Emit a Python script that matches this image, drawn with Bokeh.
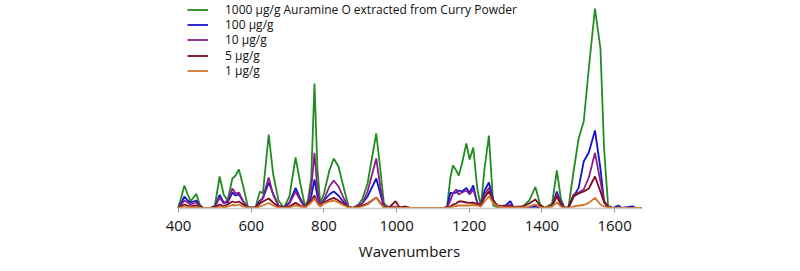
from bokeh.plotting import figure
from bokeh.models import Range1d, Legend, LegendItem, FixedTicker
from bokeh.embed import file_html
from bokeh.resources import INLINE

wavenumbers = [398, 405, 416, 425, 433, 449, 458, 468, 490, 500,
               513, 524, 535, 548, 557, 566, 578, 591, 612, 618,
               624, 632, 648, 660, 675, 690, 705, 722, 735, 748,
               756, 765, 774, 782, 790, 800, 815, 827, 840, 855,
               868, 880, 895, 905, 920, 944, 955, 965, 980, 997,
               1008, 1025, 1040, 1130, 1139, 1148, 1155, 1164, 1171, 1180,
               1192, 1201, 1211, 1222, 1232, 1242, 1254, 1266, 1278, 1300,
               1313, 1322, 1345, 1365, 1382, 1395, 1408, 1428, 1441, 1452,
               1462, 1473, 1487, 1501, 1515, 1529, 1546, 1561, 1571, 1582,
               1595, 1610, 1620, 1650, 1660, 1674]

c1000 = [0.5, 8, 23, 14, 7.3, 14.6, 4, 0.5, 0.8, 3,
         32, 14, 8, 30, 33, 39, 22, 1, 0.8, 10,
         17, 15, 74, 35, 8, 0.8, 12, 51, 25, 2,
         8, 30, 125, 40, 5, 15, 38, 50, 42, 20,
         2, 0.5, 4, 9, 25, 75, 40, 5, 0.5, 0.8,
         0.5, 0.5, 0.5, 0.5, 2, 31, 43, 38, 33, 45,
         65, 49, 61, 20, 2, 40, 73, 3, 1, 1,
         0.8, 0.5, 1, 8, 21.6, 4, 0.5, 5, 38, 10,
         0.5, 1, 37, 70, 87, 140, 200, 160, 60, 3,
         0.5, 0.5, 0.5, 0.5, 0.5, 0.5]

c100 = [0.5, 4, 12, 8, 6, 8, 2, 0.5, 0.8, 2,
        13.6, 6, 6, 16, 13, 14, 7, 0.8, 0.8, 5,
        8, 10, 26, 15, 3, 0.8, 6, 20.6, 10, 1,
        5, 12, 29, 12, 3, 8, 14, 17, 13, 6,
        1, 0.5, 3, 5, 12, 30, 15, 2, 0.5, 1.5,
        0.5, 0.5, 0.5, 0.5, 1, 15.8, 15, 16, 18, 17,
        20.6, 15.8, 23, 5, 2, 18, 26, 8, 2, 3,
        7.3, 1, 1, 1.5, 2, 1, 0.5, 3, 17, 6,
        0.5, 1, 12, 20.6, 47, 56, 78, 40, 7, 1,
        0.5, 3, 0.5, 2, 0.5, 0.5]

c10 = [0.5, 3, 8, 6, 4, 6, 2, 0.5, 0.8, 1.5,
       11, 5, 8, 20, 15, 16, 7, 0.8, 0.8, 4,
       7, 11, 31, 14, 3, 0.8, 5, 17, 8, 1,
       6, 20, 55.6, 20, 3, 9, 22, 28, 22, 10,
       1, 0.5, 3, 5, 17, 50, 22, 3, 0.8, 2,
       0.5, 0.8, 0.5, 0.5, 1, 8, 15, 19, 14, 16,
       18, 14, 19, 6, 3, 14, 20.6, 8, 2, 2,
       4, 1, 1, 1.5, 4, 1, 0.5, 3, 15, 5,
       0.5, 1, 14, 16, 19, 31, 55.6, 27, 8, 1,
       0.5, 0.5, 0.5, 0.5, 0.5, 0.5]

c5 = [0.5, 2, 4, 3, 2, 3, 1, 0.5, 0.8, 1,
      4, 2.5, 4, 7, 6, 7, 4, 0.8, 0.8, 3,
      5, 7, 10, 6, 1.5, 0.8, 2, 5.6, 3, 1,
      5, 8, 13, 6, 2, 6, 9, 10.6, 8, 4,
      1, 0.5, 2, 3, 5, 11, 6, 1, 1, 7.3,
      1, 2, 0.5, 0.5, 0.8, 2, 4, 5, 7, 7,
      6, 5.6, 6, 4, 3, 11, 17, 8, 3, 2,
      2, 1.5, 2, 5, 9, 3, 0.5, 3, 12, 4,
      0.5, 1, 12, 15, 17, 20, 32, 17, 6, 1,
      0.5, 0.5, 0.5, 0.5, 0.5, 0.5]

c1 = [0.5, 1, 2, 1.5, 1, 1.5, 0.8, 0.5, 0.5, 0.5,
      2, 1.2, 2, 3.5, 3, 4, 2, 0.8, 0.5, 1.5,
      2, 3, 5.5, 3, 1, 0.5, 1, 3, 2, 1,
      3, 6, 10, 5, 2, 5, 7, 8, 6, 3,
      1, 0.5, 1, 2, 4, 11, 5, 1, 0.5, 1,
      0.5, 0.5, 0.5, 0.5, 0.5, 1, 2, 2.5, 3, 3,
      3, 3, 3.5, 3, 2, 7, 12, 5.6, 2, 1,
      1, 1, 1, 2, 4, 1, 0.5, 2, 6, 2,
      0.5, 0.5, 2, 3, 3.5, 5.6, 10.6, 4, 2, 1,
      0.5, 0.5, 0.5, 0.5, 0.5, 0.5]

series_labels = ["1000 µg/g Auramine O extracted from Curry Powder",
                 "100 µg/g", "10 µg/g", "5 µg/g", "1 µg/g"]
series_colors = ["#228b22", "#1414cc", "#8a1e8a", "#7a0c1e", "#d0742c"]
tick_values = [400, 600, 800, 1000, 1200, 1400, 1600]

p = figure(width=800, height=271, output_backend="svg", toolbar_location=None,
           x_range=Range1d(397, 1674), y_range=Range1d(0, 208),
           min_border_left=177, min_border_right=159, min_border_top=0,
           min_border_bottom=63, y_axis_location=None)
p.outline_line_color = None
p.xgrid.visible = False
p.ygrid.visible = False
p.background_fill_color = "white"

renderers = []
for ys, col in zip([c1000, c100, c10, c5, c1], series_colors):
    r = p.line(wavenumbers, ys, line_color=col, line_width=1.8)
    renderers.append(r)

ax = p.xaxis[0]
ax.ticker = FixedTicker(ticks=tick_values)
ax.axis_line_color = "#cccccc"
ax.axis_line_width = 1.5
ax.major_tick_line_color = "#999999"
ax.major_tick_in = 0
ax.major_tick_out = 4
ax.minor_tick_line_color = None
ax.major_label_text_font = "Open Sans"
ax.major_label_text_font_size = "15px"
ax.major_label_text_color = "#111111"
ax.major_label_standoff = 8
ax.axis_label = "Wavenumbers"
ax.axis_label_text_font = "Open Sans"
ax.axis_label_text_font_size = "15px"
ax.axis_label_text_font_style = "normal"
ax.axis_label_text_color = "#111111"
ax.axis_label_standoff = 7

# one single-row legend per series so the row pitch matches the reference
row_bottoms = [190, 175, 160, 144, 129]
for lab, r, yb in zip(series_labels, renderers, row_bottoms):
    lg = Legend(items=[LegendItem(label=lab, renderers=[r])], location=(10, yb),
                border_line_color=None, background_fill_alpha=0,
                padding=0, margin=0, spacing=0,
                glyph_width=21, glyph_height=15, label_height=15,
                label_standoff=17, label_text_font="Open Sans",
                label_text_font_size="12px", label_text_color="#111111")
    p.add_layout(lg)

open("out.html", "w").write(file_html(p, INLINE))
